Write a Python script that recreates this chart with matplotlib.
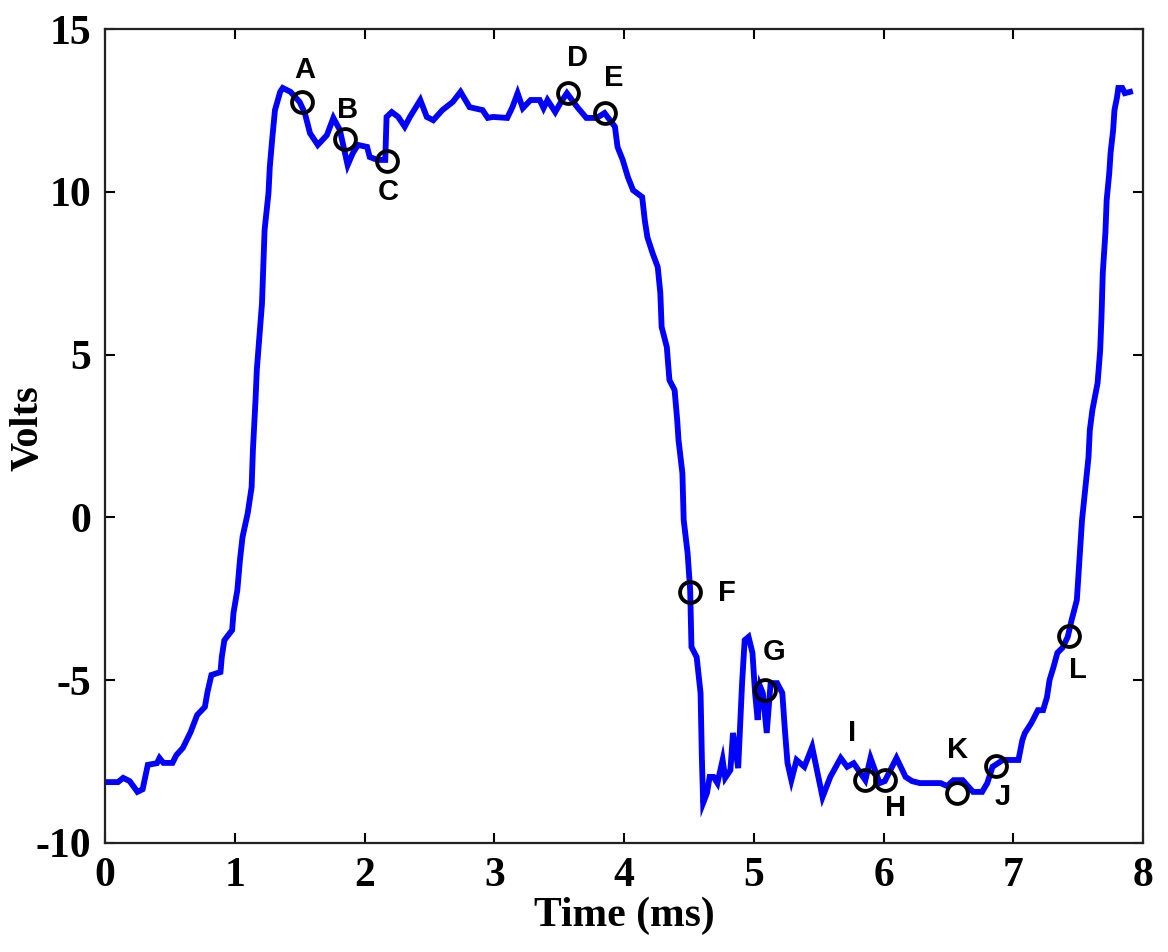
import numpy as np
import matplotlib.pyplot as plt

plt.rcParams["axes.unicode_minus"] = False

# trace of the waveform
t_ms = [0.00, 0.10, 0.14, 0.19, 0.25, 0.29, 0.31, 0.33, 0.40, 0.42, 0.45, 0.52, 0.55,
        0.60, 0.66, 0.71, 0.77, 0.79, 0.82, 0.89, 0.90, 0.92, 0.98, 0.99, 1.02, 1.04,
        1.06, 1.10, 1.13, 1.14, 1.16, 1.17, 1.19, 1.21, 1.22, 1.23, 1.26, 1.27, 1.29,
        1.31, 1.35, 1.37, 1.43, 1.50, 1.54, 1.58, 1.64, 1.71, 1.76, 1.81, 1.87, 1.91,
        1.95, 2.02, 2.04, 2.10, 2.16, 2.17, 2.21, 2.26, 2.31, 2.35, 2.43, 2.48, 2.53,
        2.60, 2.68, 2.74, 2.81, 2.91, 2.95, 2.99, 3.10, 3.14, 3.18, 3.22, 3.28, 3.35,
        3.38, 3.41, 3.47, 3.51, 3.56, 3.64, 3.71, 3.79, 3.85, 3.93, 3.95, 3.99, 4.03,
        4.07, 4.14, 4.16, 4.18, 4.22, 4.26, 4.28, 4.29, 4.33, 4.35, 4.39, 4.41, 4.42,
        4.45, 4.46, 4.49, 4.51, 4.52, 4.56, 4.59, 4.60, 4.61, 4.64, 4.66, 4.69, 4.72,
        4.76, 4.78, 4.82, 4.84, 4.88, 4.91, 4.93, 4.96, 4.99, 5.01, 5.03, 5.05, 5.07,
        5.10, 5.13, 5.18, 5.22, 5.24, 5.26, 5.29, 5.33, 5.39, 5.45, 5.53, 5.59, 5.67,
        5.72, 5.77, 5.86, 5.90, 5.97, 6.01, 6.10, 6.17, 6.22, 6.28, 6.44, 6.49, 6.54,
        6.61, 6.69, 6.76, 6.80, 6.84, 6.92, 7.04, 7.07, 7.09, 7.14, 7.19, 7.23, 7.26,
        7.28, 7.31, 7.34, 7.38, 7.42, 7.45, 7.49, 7.53, 7.58, 7.59, 7.61, 7.65, 7.67,
        7.68, 7.69, 7.71, 7.72, 7.74, 7.75, 7.77, 7.78, 7.80, 7.81, 7.84, 7.86, 7.90]
volts = [-8.13, -8.13, -8.00, -8.10, -8.43, -8.35, -7.97, -7.60, -7.55, -7.39, -7.54, -7.54, -7.30,
         -7.08, -6.59, -6.07, -5.82, -5.36, -4.84, -4.75, -4.29, -3.77, -3.46, -2.94, -2.23, -1.31,
         -0.60, 0.13, 0.93, 2.07, 3.60, 4.53, 5.54, 6.58, 7.69, 8.83, 9.96, 10.76, 11.68,
         12.51, 13.07, 13.19, 13.07, 12.76, 12.42, 11.80, 11.44, 11.74, 12.27, 11.90, 10.82, 11.19,
         11.44, 11.38, 11.07, 10.98, 10.98, 12.30, 12.45, 12.30, 12.00, 12.30, 12.82, 12.30, 12.20,
         12.51, 12.76, 13.07, 12.60, 12.51, 12.27, 12.30, 12.27, 12.60, 13.03, 12.57, 12.82, 12.82,
         12.57, 12.82, 12.45, 12.73, 13.03, 12.60, 12.27, 12.27, 12.42, 12.00, 11.38, 10.98, 10.45,
         10.05, 9.84, 9.13, 8.61, 8.12, 7.69, 6.89, 5.85, 5.23, 4.22, 3.91, 2.99, 2.38,
         1.36, -0.08, -1.09, -2.23, -3.98, -4.29, -5.39, -7.36, -8.77, -8.46, -7.97, -7.97, -8.16,
         -7.45, -8.00, -7.76, -6.62, -7.70, -5.09, -3.77, -3.67, -4.16, -5.39, -6.22, -5.20, -5.40,
         -6.62, -5.09, -5.09, -5.39, -6.53, -7.54, -8.07, -7.45, -7.66, -7.05, -8.59, -7.97, -7.39,
         -7.66, -7.55, -8.07, -7.39, -8.16, -8.10, -7.39, -7.97, -8.10, -8.16, -8.16, -8.25, -8.07,
         -8.07, -8.43, -8.43, -8.16, -7.66, -7.45, -7.45, -6.84, -6.62, -6.31, -5.92, -5.92, -5.52,
         -4.99, -4.60, -4.16, -4.00, -3.67, -3.15, -2.54, -0.08, 1.85, 2.68, 3.30, 4.13, 5.14,
         6.15, 7.51, 8.73, 9.75, 10.58, 11.19, 11.90, 12.51, 12.91, 13.19, 13.19, 13.03, 13.07]

# marked points and their letters
mark_names = ["A", "B", "C", "D", "E", "F", "G", "I", "H", "K", "J", "L"]
mark_t = [1.52, 1.85, 2.17, 3.57, 3.85, 4.51, 5.09, 5.86, 6.01, 6.57, 6.87, 7.43]
mark_v = [12.76, 11.62, 10.95, 13.03, 12.42, -2.29, -5.30, -8.07, -8.07, -8.46, -7.63, -3.64]
label_t = [1.54, 1.87, 2.18, 3.64, 3.92, 4.79, 5.16, 5.76, 6.09, 6.57, 6.92, 7.50]
label_v = [13.74, 12.51, 9.99, 14.11, 13.50, -2.32, -4.13, -6.62, -8.93, -7.14, -8.59, -4.69]

fig = plt.figure(figsize=(11.68, 9.52), dpi=100)
ax = fig.add_axes([0.0899, 0.1145, 0.8887, 0.855])

ax.plot(t_ms, volts, color="#0000ff", lw=4.2, solid_joinstyle="miter")
ax.plot(mark_t, mark_v, "o", ms=15, mfc="none", mec="black", mew=2.8)
for name, x, y in zip(mark_names, label_t, label_v):
    ax.text(x, y, name, ha="center", va="center", fontsize=21,
            fontweight="bold", family="Liberation Sans")

ax.set_xlim(0, 8)
ax.set_ylim(-10, 15)
ax.set_xticks(range(0, 9))
ax.set_yticks([-10, -5, 0, 5, 10, 15])
ax.tick_params(direction="in", length=7, width=1.5, top=True, right=True,
               labelsize=30, pad=10)
for lab in ax.get_xticklabels() + ax.get_yticklabels():
    lab.set_family("Liberation Serif")
    lab.set_fontweight("bold")
for sp in ax.spines.values():
    sp.set_linewidth(1.6)
    sp.set_color("#222222")

ax.set_xlabel("Time (ms)", family="Liberation Serif", fontweight="bold",
              fontsize=30)
ax.set_ylabel("Volts", family="Liberation Serif", fontweight="bold",
              fontsize=29)
ax.yaxis.set_label_coords(-0.056, 0.51)
ax.xaxis.set_label_coords(0.5, -0.066)

fig.savefig("out.png", dpi=100)
